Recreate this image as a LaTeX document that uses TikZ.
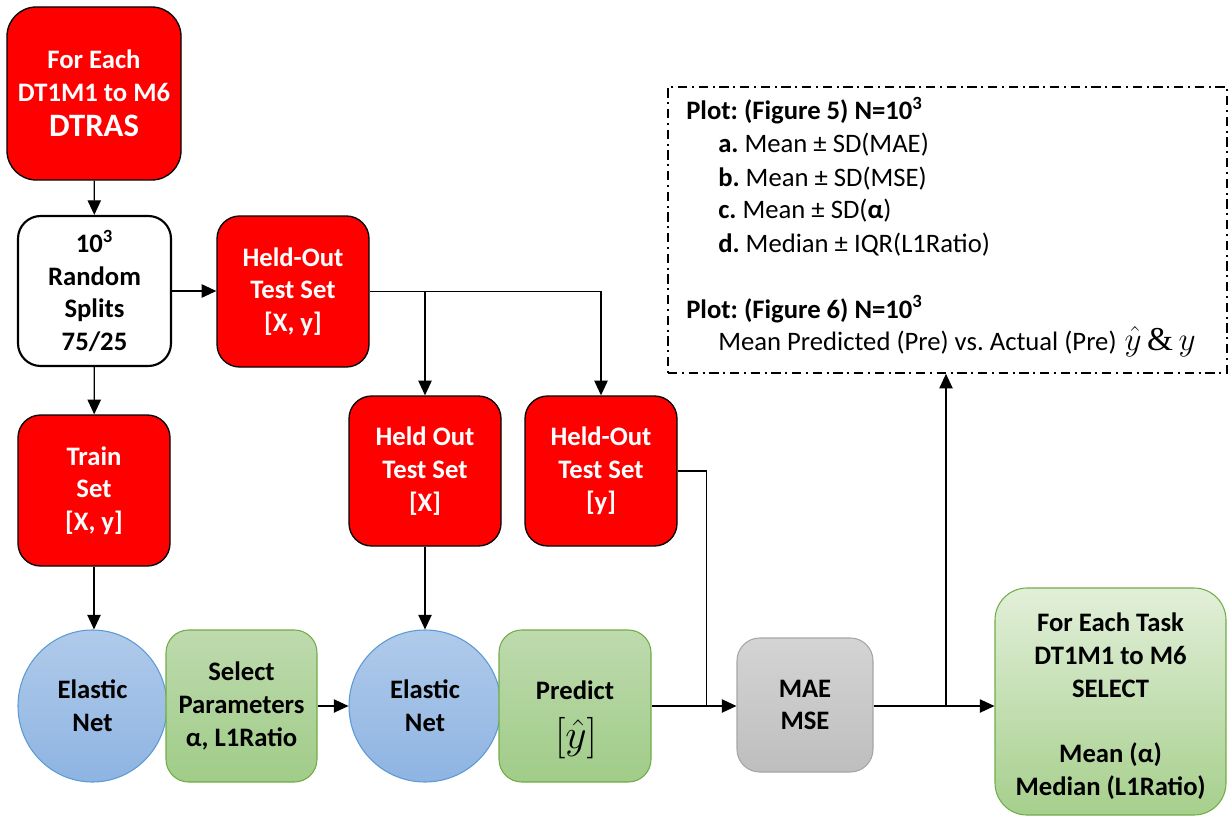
\documentclass[tikz,border=0pt]{standalone}
\usepackage{graphicx}
\usepackage{fontspec}
\setmainfont{Carlito}
\newfontfamily\serifamp{Liberation Serif}
\usetikzlibrary{arrows.meta,shapes.geometric}
\definecolor{rbox}{RGB}{255,0,0}
\definecolor{gtop}{RGB}{190,218,174}
\definecolor{gbot}{RGB}{160,204,136}
\definecolor{ftop}{RGB}{226,239,217}
\definecolor{fbot}{RGB}{166,207,140}
\definecolor{gline}{RGB}{112,173,71}
\definecolor{btop}{RGB}{176,202,234}
\definecolor{bbot}{RGB}{142,180,226}
\definecolor{bline}{RGB}{91,155,213}
\definecolor{ytop}{RGB}{212,212,212}
\definecolor{ybot}{RGB}{190,190,190}
\definecolor{yline}{RGB}{166,166,166}
\tikzset{
  boxtext/.style={font=\bfseries\fontsize{20}{24.5}\selectfont, align=center, inner sep=0pt},
  redbox/.style={boxtext, draw=black, line width=1pt, fill=rbox, text=white, rounded corners=17pt},
  whitebox/.style={boxtext, draw=black, line width=1.6pt, fill=white, rounded corners=17pt},
  greenbox/.style={boxtext, draw=gline, line width=0.8pt, top color=gtop, bottom color=gbot, rounded corners=17pt},
  finbox/.style={boxtext, draw=gline, line width=0.8pt, top color=ftop, bottom color=fbot, rounded corners=24pt},
  graybox/.style={boxtext, draw=yline, line width=0.8pt, top color=ytop, bottom color=ybot, rounded corners=17pt},
  bluecirc/.style={boxtext, ellipse, draw=bline, line width=0.8pt, top color=btop, bottom color=bbot},
  plotbox/.style={draw=black, line width=1.2pt, dash pattern=on 7pt off 3.5pt on 1.5pt off 3.5pt, inner sep=0pt},
  plottext/.style={font=\fontsize{20}{24.5}\selectfont, anchor=base west, inner sep=0pt},
  arr/.style={draw=black, line width=1pt, -{Triangle[length=11pt,width=10pt]}},
  conn/.style={draw=black, line width=1pt}
}
\frenchspacing
\begin{document}
\begin{tikzpicture}[x=0.75pt,y=-0.75pt]
\useasboundingbox (0,0) rectangle (1231,820);

\node[redbox, minimum width=130.5pt, minimum height=129.75pt, rounded corners=22pt] (top) at (94,93.5)
  {For Each\\DT1M1 to M6\\[2pt]{\fontsize{24.5}{26}\selectfont DTRAS}};
\node[whitebox, minimum width=114.75pt, minimum height=112.5pt] (rand) at (94.5,291)
  {10\textsuperscript{3}\\Random\\Splits\\75/25};
\node[redbox, minimum width=114pt, minimum height=113.25pt] (hot) at (293,291.5)
  {Held-Out\\Test Set\\{[X, y]}};
\node[redbox, minimum width=114pt, minimum height=113.25pt] (train) at (94,490.5)
  {Train\\Set\\{[X, y]}};
\node[redbox, minimum width=114pt, minimum height=112.5pt] (hx) at (425,471)
  {Held Out\\Test Set\\{[X]}};
\node[redbox, minimum width=114pt, minimum height=112.5pt] (hy) at (601,471)
  {Held-Out\\Test Set\\{[y]}};

\node[bluecirc, minimum width=111.75pt, minimum height=114pt] (c1) at (92.5,706) {Elastic\\Net};
\node[greenbox, minimum width=113.25pt, minimum height=114pt] (sel) at (241.5,706)
  {Select\\Parameters\\α, L1Ratio};
\node[bluecirc, minimum width=114pt, minimum height=114pt] (c2) at (425,706) {Elastic\\Net};
\node[greenbox, minimum width=114pt, minimum height=114pt] (pred) at (575,706) {};
\node[boxtext] (predt) at (575,690) {Predict};
\node[inner sep=0pt] (predm) at (576,738) {\scalebox{1.25}{\fontsize{24}{26}\selectfont$\big[\hat{y}\big]$}};
\node[graybox, minimum width=102pt, minimum height=100.5pt] (mae) at (805,705) {MAE\\MSE};
\node[finbox, minimum width=173.25pt, minimum height=170.25pt] (fin) at (1110.5,701.5) {};
\node[boxtext] (fint) at (1110.5,706)
  {For Each Task\\DT1M1 to M6\\SELECT\\~\\Mean (α)\\Median (L1Ratio)};

\node[plotbox, minimum width=419.25pt, minimum height=214.5pt] (plot) at (947.5,230) {};
\node[plottext] (p1) at (686,120) {\textbf{Plot: (Figure 5) N=10\textsuperscript{3}}};
\node[plottext] (p2) at (718,153) {\textbf{a.} Mean ± SD(MAE)};
\node[plottext] (p3) at (718,186) {\textbf{b.} Mean ± SD(MSE)};
\node[plottext] (p4) at (718,219) {\textbf{c.} Mean ± SD(\textbf{α})};
\node[plottext] (p5) at (718,252) {\textbf{d.} Median ± IQR(L1Ratio)};
\node[plottext] (p6) at (686,318) {\textbf{Plot: (Figure 6) N=10\textsuperscript{3}}};
\node[plottext] (p7) at (718,350) {Mean Predicted (Pre) vs. Actual (Pre)\hspace{6pt}{\fontsize{25}{28}\selectfont$\hat{y}$\,{\serifamp\&}\,$y$}};

\draw[arr] (top) -- (rand);
\draw[arr] (rand.east) -- (rand.east -| hot.west);
\draw[arr] (rand) -- (train);
\draw[arr] (hot.east) -| (hx.north);
\draw[arr] (hot.east) -| (hy.north);
\draw[arr] (train.south) -- (train.south |- c1.north);
\draw[arr] (hx) -- (c2);
\draw[arr] (sel.east) -- (sel.east -| c2.west);
\path (pred.east -| mae.west) ++(-30,0) coordinate (j1);
\draw[arr] (pred.east) -- (pred.east -| mae.west);
\draw[conn] (hy.east) -| (j1);
\draw[arr] (mae.east |- pred.east) -- (pred.east -| fin.west);
\coordinate (j2) at (946,706);
\draw[arr] (j2) -- (j2 |- plot.south);
\end{tikzpicture}
\end{document}
